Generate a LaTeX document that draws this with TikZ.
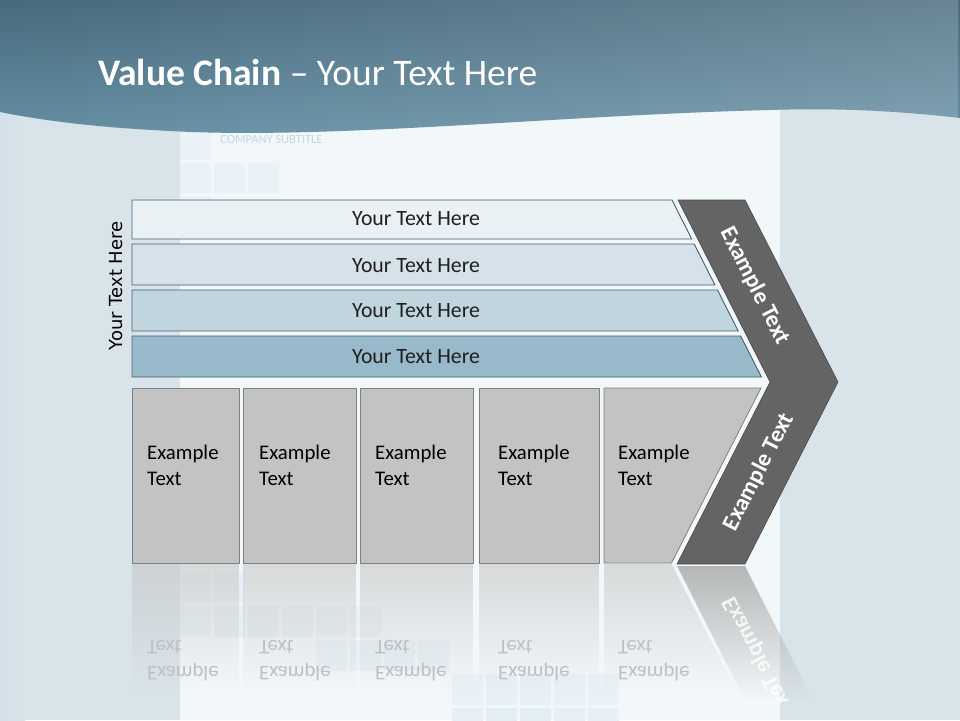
\documentclass[tikz,border=0pt]{standalone}
\usepackage{fontspec}
\setmainfont{Carlito}
\newfontfamily\vfont{DejaVu Sans}
\usetikzlibrary{fadings}
\tikzfading[name=reflfade, top color=transparent!45, bottom color=transparent!100]
\tikzfading[name=chevfade, top color=transparent!40, bottom color=transparent!100]
\tikzfading[name=bannerfade, left color=transparent!100, right color=transparent!82]
\definecolor{bgcol}{HTML}{D9E4EA}
\definecolor{panelcol}{HTML}{F2F7F9}
\definecolor{bannertop}{HTML}{486A7D}
\definecolor{bannerbot}{HTML}{6690A5}
\definecolor{barline}{HTML}{41606F}
\definecolor{barA}{HTML}{EAF1F5}
\definecolor{barB}{HTML}{D5E2E9}
\definecolor{barC}{HTML}{C1D5DF}
\definecolor{barD}{HTML}{97B9C9}
\definecolor{boxfill}{HTML}{C3C3C3}
\definecolor{boxline}{HTML}{808080}
\definecolor{chevfill}{HTML}{646464}
\definecolor{chevline}{HTML}{4A4A4A}
\definecolor{sqcol}{HTML}{DCE9F2}
\definecolor{subcol}{HTML}{C6D7E1}
\definecolor{reftext}{HTML}{BDC1C5}
\begin{document}
\begin{tikzpicture}[x=1pt,y=-1pt,
  barshape/.style={draw=barline, line width=0.9pt},
  boxshape/.style={fill=boxfill, draw=boxline, line width=0.8pt},
  chevshape/.style={fill=chevfill, draw=chevline, line width=0.6pt},
  reflshape/.style={fill=boxfill, path fading=reflfade},
  bartext/.style={font=\fontsize{21.8}{25}\selectfont, text=black!88, inner sep=0pt},
  boxtext/.style={font=\fontsize{20.8}{26}\selectfont, text=black, align=left, anchor=west, inner sep=0pt},
  reftxt/.style={font=\fontsize{20.8}{26}\selectfont, text=reftext, align=left, anchor=west, inner sep=0pt, yscale=-1},
  chevtext/.style={font=\bfseries\fontsize{23.5}{26}\selectfont, text=white, inner sep=0pt}
]
\useasboundingbox (0,0) rectangle (960,720);
% background
\fill[bgcol] (0,0) rectangle (960,720);
\fill[left color=bgcol!85!blue!15!bgcol, right color=bgcol] (0,0) rectangle (25,720);
\fill[panelcol] (180,100) rectangle (780,720);
% faint squares
\foreach \c/\r in {0/0,0/1,1/1,2/1,0/2}{
  \fill[sqcol!35!panelcol] (180+34*\c,130+33*\r) rectangle +(31,30);
}
\foreach \c/\r/\o in {0/0/50,1/0/50,0/1/45,1/1/55,2/1/55,3/1/50,4/1/45,5/1/40,
                      4/2/40,5/2/45,6/2/45,7/2/40,8/3/40,9/3/50,10/3/50,11/3/45,12/3/40,
                      8/4/55,9/4/70,10/4/70,11/4/60,12/4/50}{
  \fill[sqcol!\o!panelcol] (180+34*\c,572+34*\r) rectangle +(31,31);
}
\node[font=\fontsize{12.5}{14}\selectfont, text=subcol, anchor=west, inner sep=0pt] (sub) at (220,139) {COMPANY SUBTITLE};
% banner
\shade[top color=bannertop, bottom color=bannerbot]
  (0,0) -- (960,0) -- (960,118) .. controls (890,110) and (830,108) .. (770,110)
  .. controls (560,115) and (330,140) .. (170,131) .. controls (90,127) and (40,120) .. (0,112) -- cycle;
\fill[white, path fading=bannerfade]
  (0,0) -- (960,0) -- (960,118) .. controls (890,110) and (830,108) .. (770,110)
  .. controls (560,115) and (330,140) .. (170,131) .. controls (90,127) and (40,120) .. (0,112) -- cycle;
\node[anchor=base west, inner sep=0pt, text=white, font=\fontsize{37.5}{42}\selectfont] (title) at (98,85)
  {\textbf{Value Chain} -- Your Text Here};
% bars
\draw[barshape, fill=barA] (132,200) -- (672,200) -- (691.7,239) -- (132,239) -- cycle;
\draw[barshape, fill=barB] (132,244) -- (694.2,244) -- (714.9,285) -- (132,285) -- cycle;
\draw[barshape, fill=barC] (132,290) -- (717.5,290) -- (738.2,331) -- (132,331) -- cycle;
\draw[barshape, fill=barD] (132,336) -- (740.7,336) -- (761.4,377) -- (132,377) -- cycle;
\node[bartext] (b1) at (416,219) {Your Text Here};
\node[bartext] (b2) at (416,266) {Your Text Here};
\node[bartext] (b3) at (416,311) {Your Text Here};
\node[bartext] (b4) at (416,357) {Your Text Here};
\node[rotate=90, font=\vfont\fontsize{18}{20}\selectfont, inner sep=0pt] (side) at (116,286) {Your Text Here};
% reflections
\fill[reflshape] (132,564) rectangle (239,690);
\fill[reflshape] (243,564) rectangle (356,690);
\fill[reflshape] (360,564) rectangle (473,690);
\fill[reflshape] (479,564) rectangle (599,690);
\fill[reflshape] (604,564) -- (671.5,564) -- (735.9,690) -- (604,690) -- cycle;
\begin{scope}
\clip (600,560) rectangle (900,702);
\fill[fill=black!45, path fading=chevfade] (677,566) -- (745,566) -- (813,700) -- (745,700) -- cycle;
\node[chevtext, rotate=-63, yscale=-1, text opacity=0.8] (rc) at (758,655) {Example Text};
\end{scope}
\node[reftxt] (r1) at (147,661) {Example\\Text};
\node[reftxt] (r2) at (259,661) {Example\\Text};
\node[reftxt] (r3) at (375,661) {Example\\Text};
\node[reftxt] (r4) at (498,661) {Example\\Text};
\node[reftxt] (r5) at (618,661) {Example\\Text};
% boxes
\draw[boxshape] (132,388) rectangle (239,563);
\draw[boxshape] (243,388) rectangle (356,563);
\draw[boxshape] (360,388) rectangle (473,563);
\draw[boxshape] (479,388) rectangle (599,563);
\draw[boxshape] (604,388) -- (761,388) -- (671.5,563) -- (604,563) -- cycle;
\node[boxtext] (e1) at (147,465) {Example\\Text};
\node[boxtext] (e2) at (259,465) {Example\\Text};
\node[boxtext] (e3) at (375,465) {Example\\Text};
\node[boxtext] (e4) at (498,465) {Example\\Text};
\node[boxtext] (e5) at (618,465) {Example\\Text};
% chevron
\draw[chevshape] (678,200) -- (745,200) -- (838,382) -- (745,564) -- (677,564) -- (770,382) -- cycle;
\node[chevtext, rotate=-63] (c1) at (755,286) {Example Text};
\node[chevtext, rotate=63] (c2) at (759,472) {Example Text};
\end{tikzpicture}
\end{document}
